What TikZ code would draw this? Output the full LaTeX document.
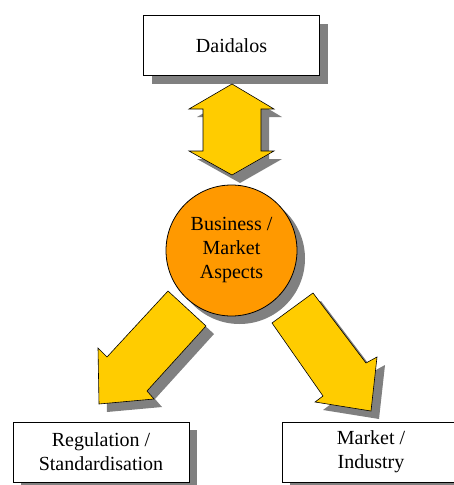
\documentclass[tikz,border=0pt]{standalone}
\usepackage{fontspec}
\setmainfont{Liberation Serif}
\usetikzlibrary{shadows}

\definecolor{arrowyellow}{RGB}{255,204,0}
\definecolor{huborange}{RGB}{255,153,0}
\definecolor{shadowgray}{RGB}{128,128,128}

\tikzset{
  castshadow/.style={drop shadow={shadow xshift=8pt,shadow yshift=-8pt,fill=shadowgray,opacity=1}},
  partner/.style={draw,fill=white,line width=0.8pt,minimum width=176pt,minimum height=60pt,inner sep=0pt,align=center,castshadow},
  hub/.style={circle,draw,fill=huborange,line width=0.8pt,minimum size=131pt,inner sep=0pt,align=center,castshadow},
  blockarrow/.style={draw,fill=arrowyellow,line width=0.6pt,line join=miter,castshadow}
}

\begin{document}
\begin{tikzpicture}[x=1pt,y=1pt,yscale=-1,font=\fontsize{20}{24}\selectfont]
        \useasboundingbox (0,0) rectangle (453,485);

        % Partner boxes
        \node [partner] (daidalos) at (231.5,45.5) {Daidalos};
        \node [partner] (regulation) at (101,452) {Regulation /\\Standardisation};
        \node [partner,minimum width=178pt] (industry) at (371,452) {Market /\\Industry};

        % Block arrows
        \path [blockarrow] (232,84) -- (274,109) -- (261,109) -- (261,151) -- (274,151) -- (232,175)
              -- (189,151) -- (203,151) -- (203,109) -- (189,109) -- cycle;
        \path [blockarrow] (168,291) -- (206,326) -- (147,391) -- (154,399) -- (99,404) -- (98,348) -- (107,357) -- cycle;
        \path [blockarrow] (313,293) -- (366,363) -- (377,357) -- (371,411) -- (315,402) -- (323,396) -- (272,323) -- cycle;

        % Centre circle
        \node [hub] (business) at (231.5,250.5) {Business /\\Market\\Aspects};

\end{tikzpicture}
\end{document}
